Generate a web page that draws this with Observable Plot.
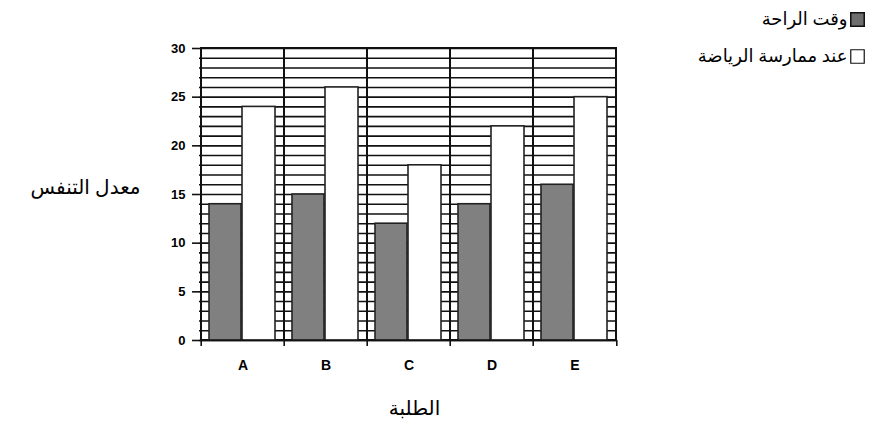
<!DOCTYPE html>
<html>
<head>
<meta charset="utf-8">
<script src="https://cdn.jsdelivr.net/npm/d3@7"></script>
<script src="https://cdn.jsdelivr.net/npm/@observablehq/plot@0.6"></script>
<style>
  html, body { margin: 0; padding: 0; background: #fff; }
  #chart svg { display: block; }
</style>
</head>
<body>
<div id="chart"></div>
<script>
// ---- data ----
const students = ["A", "B", "C", "D", "E"];
const restRate = [14, 15, 12, 14, 16];
const exerciseRate = [24, 26, 18, 22, 25];
const yTicks = [0, 5, 10, 15, 20, 25, 30];
const gridValues = d3.range(0, 31, 1);
const seriesNames = ["وقت الراحة", "عند ممارسة الرياضة"];
const yTitle = "معدل التنفس";
const xTitle = "الطلبة";

const rest = students.map((s, i) => ({student: s, value: restRate[i]}));
const exercise = students.map((s, i) => ({student: s, value: exerciseRate[i]}));

const arabicFont = "'Noto Sans', 'DejaVu Sans', sans-serif";
const gray = "#808080";

const chart = Plot.plot({
  width: 874,
  height: 421,
  marginLeft: 199,
  marginRight: 257,
  marginTop: 48,
  marginBottom: 81,
  style: {fontFamily: "'Liberation Sans', Arial, sans-serif", background: "#fff"},
  x: {type: "band", domain: students, padding: 0, axis: null, label: null},
  y: {domain: [0, 30], axis: null, label: null},
  marks: [
    // horizontal grid lines every unit
    Plot.ruleY(gridValues, {stroke: "#111", strokeWidth: 1.6}),
    // category cells (vertical boundaries)
    Plot.cell(students, {x: d => d, fill: "none", stroke: "#111", strokeWidth: 2}),
    // bars
    Plot.barY(rest, {x: "student", y: "value", fill: gray, stroke: "#222", strokeWidth: 1.6, insetLeft: 8, insetRight: 43}),
    Plot.barY(exercise, {x: "student", y: "value", fill: "#fff", stroke: "#222", strokeWidth: 1.6, insetLeft: 41, insetRight: 9}),
    // baseline
    Plot.ruleY([0], {stroke: "#111", strokeWidth: 1.6}),
    // y axis
    Plot.axisY(yTicks, {label: null, tickSize: 7, tickPadding: 7, fontWeight: "bold", fontSize: 13, stroke: "#111", strokeWidth: 1.6}),
    // x axis labels
    Plot.axisX({label: null, tickSize: 0, tickPadding: 20, fontWeight: "bold", fontSize: 14}),
    // x tick marks at category boundaries
    Plot.ruleX(students, {x: d => d, dx: -41.8, y1: 0, y2: 0, insetBottom: -6, stroke: "#111", strokeWidth: 1.6}),
    Plot.ruleX([students[students.length - 1]], {x: d => d, dx: 41.8, y1: 0, y2: 0, insetBottom: -6, stroke: "#111", strokeWidth: 1.6}),
    // axis titles
    Plot.text([yTitle], {text: d => d, frameAnchor: "left", dx: -59, dy: -7, textAnchor: "end", lineAnchor: "middle", fontSize: 20, fontFamily: arabicFont, fill: "#000"}),
    Plot.text([xTitle], {text: d => d, frameAnchor: "bottom", dx: 6, dy: 68, textAnchor: "middle", lineAnchor: "middle", fontSize: 20, fontFamily: arabicFont, fill: "#000"}),
    // legend
    Plot.dot([0], {frameAnchor: "top-right", dx: 240, dy: -29, symbol: "square", r: 7.6, fill: "#6e6e6e", stroke: "#111", strokeWidth: 1.5}),
    Plot.dot([1], {frameAnchor: "top-right", dx: 240, dy: 8, symbol: "square", r: 7.6, fill: "#fff", stroke: "#111", strokeWidth: 1.2}),
    Plot.text([seriesNames[0]], {text: d => d, frameAnchor: "top-right", dx: 230, dy: -29, textAnchor: "end", lineAnchor: "middle", fontSize: 18, fontFamily: arabicFont, fill: "#000"}),
    Plot.text([seriesNames[1]], {text: d => d, frameAnchor: "top-right", dx: 230, dy: 8, textAnchor: "end", lineAnchor: "middle", fontSize: 18, fontFamily: arabicFont, fill: "#000"})
  ]
});
document.getElementById("chart").appendChild(chart);
</script>
</body>
</html>
